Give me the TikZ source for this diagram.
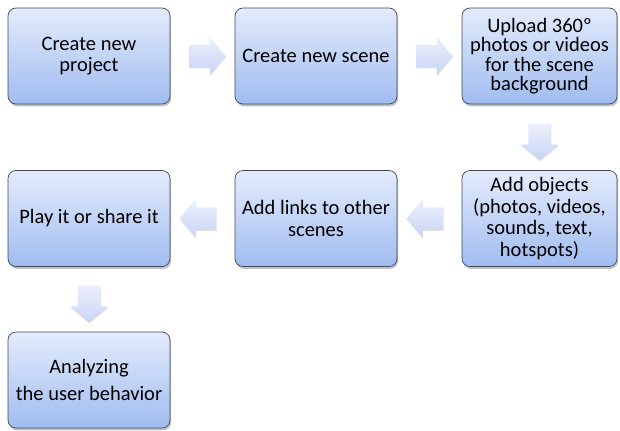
\documentclass[tikz,border=0pt]{standalone}
\usepackage{fontspec}
\setmainfont{Carlito}
\usetikzlibrary{shapes.arrows,shadows,positioning}
\definecolor{boxtop}{RGB}{228,236,252}
\definecolor{boxbot}{RGB}{160,188,240}
\definecolor{boxline}{RGB}{66,74,88}
\definecolor{arrtop}{RGB}{236,240,252}
\definecolor{arrbot}{RGB}{200,212,245}

\begin{document}
\begin{tikzpicture}[font=\fontsize{17.5}{18.5}\selectfont,
  stepbox/.style={draw=boxline, line width=0.6pt, rounded corners=0.24cm,
    top color=boxtop, bottom color=boxbot, minimum width=4.86cm, minimum height=2.88cm,
    align=center, inner sep=2pt,
    drop shadow={shadow xshift=1pt, shadow yshift=-2pt, opacity=0.35, fill=black!70}},
  flowarrow/.style={single arrow, draw=none, top color=arrtop, bottom color=arrbot,
    minimum height=1.1cm, text height=0.66cm, text depth=0pt, inner sep=0pt,
    single arrow head extend=0.23cm, single arrow tip angle=100,
    drop shadow={shadow xshift=0.5pt, shadow yshift=-1pt, opacity=0.12, fill=black}}]
\useasboundingbox (0,0) rectangle (18.6,-12.9);

% ボックス(座標配置)
\node[stepbox] (project) at (2.67,-1.68) {Create new\\project};
\node[stepbox] (scene)   at (9.48,-1.68) {Create new scene};
\node[stepbox, minimum width=4.65cm, font=\fontsize{17.5}{16.5}\selectfont] (upload) at (16.185,-1.68) {Upload 360º\\photos or videos\\for the scene\\background};
\node[stepbox, minimum width=4.65cm] (objects) at (16.185,-6.555) {Add objects\\(photos, videos,\\sounds, text,\\hotspots)};
\node[stepbox] (links)   at (9.48,-6.555) {Add links to other\\scenes};
\node[stepbox] (play)    at (2.67,-6.555) {Play it or share it};
\node[stepbox] (analyze) at (2.67,-11.4) {Analyzing\\[5pt]the user behavior};

% ブロック矢印
\path (project) -- node[flowarrow] (a1) {} (scene);
\path (scene) -- node[flowarrow] (a2) {} (upload);
\path (upload) -- node[flowarrow, rotate=-90] (a3) {} (objects);
\path (objects) -- node[flowarrow, rotate=180] (a4) {} (links);
\path (links) -- node[flowarrow, rotate=180] (a5) {} (play);
\path (play) -- node[flowarrow, rotate=-90] (a6) {} (analyze);
\end{tikzpicture}
\end{document}
